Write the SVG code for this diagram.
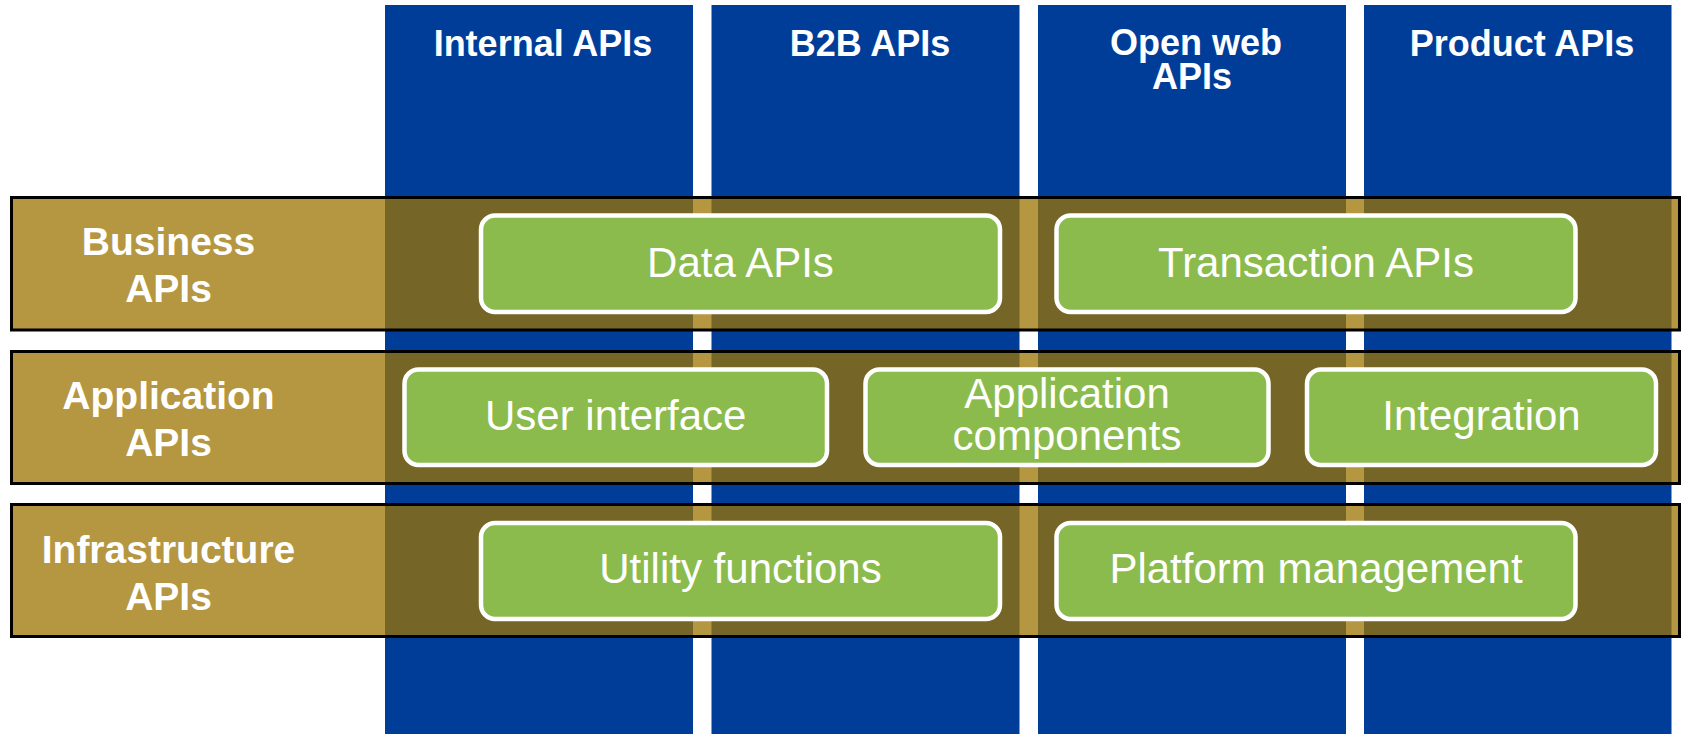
<svg xmlns="http://www.w3.org/2000/svg" width="1685" height="734" viewBox="0 0 1685 734">
<style>
.col{fill:#003D99}
.band{fill:#9C7301;fill-opacity:0.75;stroke:#000;stroke-width:3}
.box{fill:#8BBB4C;stroke:#fff;stroke-width:4.5}
.hdr{font-family:"Liberation Sans",Arial,sans-serif;font-weight:bold;font-size:36px;fill:#fff;text-anchor:middle}
.lbl{font-family:"Liberation Sans",Arial,sans-serif;font-weight:bold;font-size:39px;fill:#fff;text-anchor:middle}
.txt{font-family:"Liberation Sans",Arial,sans-serif;font-size:42px;fill:#fff;text-anchor:middle}
</style>
<rect width="1685" height="734" fill="#fff"/>
<g id="columns">
  <g id="col-internal"><rect class="col" x="385" y="5" width="308" height="729"/><text class="hdr" x="543" y="56">Internal APIs</text></g>
  <g id="col-b2b"><rect class="col" x="711.5" y="5" width="308" height="729"/><text class="hdr" x="870" y="56">B2B APIs</text></g>
  <g id="col-openweb"><rect class="col" x="1038" y="5" width="308" height="729"/><text class="hdr"><tspan x="1196" y="55">Open web</tspan><tspan x="1192" y="89">APIs</tspan></text></g>
  <g id="col-product"><rect class="col" x="1364" y="5" width="307.5" height="729"/><text class="hdr" x="1522" y="56">Product APIs</text></g>
</g>
<g id="bands">
  <g id="band-business"><rect class="band" x="11.5" y="197.5" width="1668" height="132.5"/><text class="lbl"><tspan x="168.5" y="255">Business</tspan><tspan x="168.5" y="302">APIs</tspan></text></g>
  <g id="band-application"><rect class="band" x="11.5" y="351.5" width="1668" height="132"/><text class="lbl"><tspan x="168.5" y="409">Application</tspan><tspan x="168.5" y="456">APIs</tspan></text></g>
  <g id="band-infrastructure"><rect class="band" x="11.5" y="504.5" width="1668" height="132"/><text class="lbl"><tspan x="168.5" y="563">Infrastructure</tspan><tspan x="168.5" y="610">APIs</tspan></text></g>
</g>
<g id="connectors"></g>
<g id="node-data-apis"><rect class="box" x="481" y="215.5" width="519" height="96.5" rx="14"/><text class="txt" x="740.5" y="277">Data APIs</text></g>
<g id="node-transaction-apis"><rect class="box" x="1056.5" y="215.5" width="519" height="96.5" rx="14"/><text class="txt" x="1316" y="277">Transaction APIs</text></g>
<g id="node-user-interface"><rect class="box" x="404.5" y="369.5" width="422.5" height="95.5" rx="14"/><text class="txt" x="615.7" y="430">User interface</text></g>
<g id="node-application-components"><rect class="box" x="865.5" y="369.5" width="403" height="95.5" rx="14"/><text class="txt"><tspan x="1067" y="408">Application</tspan><tspan x="1067" y="450">components</tspan></text></g>
<g id="node-integration"><rect class="box" x="1307" y="369.5" width="349" height="95.5" rx="14"/><text class="txt" x="1481.5" y="430">Integration</text></g>
<g id="node-utility-functions"><rect class="box" x="481" y="523" width="519" height="96" rx="14"/><text class="txt" x="740.5" y="583">Utility functions</text></g>
<g id="node-platform-management"><rect class="box" x="1056.5" y="523" width="519" height="96" rx="14"/><text class="txt" x="1316" y="583">Platform management</text></g>
</svg>
